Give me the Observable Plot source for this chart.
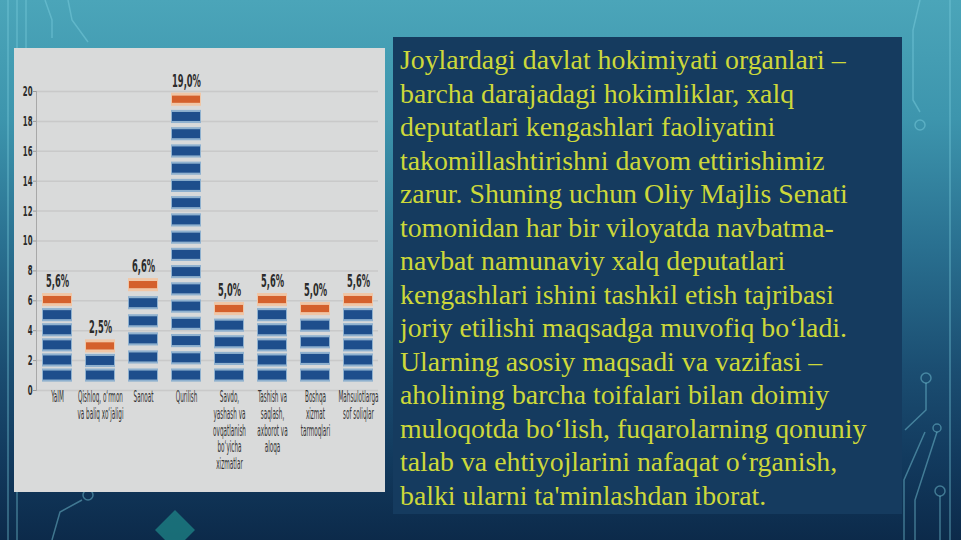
<!DOCTYPE html>
<html>
<head>
<meta charset="utf-8">
<script src="https://cdn.jsdelivr.net/npm/d3@7"></script>
<script src="https://cdn.jsdelivr.net/npm/@observablehq/plot@0.6"></script>
<style>
  html, body { margin: 0; padding: 0; }
  body { width: 961px; height: 540px; overflow: hidden; }
  #slide {
    position: relative; width: 961px; height: 540px; overflow: hidden;
    background: linear-gradient(to bottom, #4ba5b9 0%, #3d95ad 22%, #2a7191 45%, #1b4e72 68%, #123a5e 85%, #0c2a4a 100%);
  }
  #deco { position: absolute; left: 0; top: 0; }
  #panel {
    position: absolute; left: 14px; top: 48px; width: 371px; height: 444px;
    background: #d9dada;
  }
  #textbox {
    position: absolute; left: 393px; top: 37px; width: 509px; height: 477px;
    background: #153b5f; box-sizing: border-box; padding: 6px 0 0 7px;
    font-family: "Liberation Serif", "DejaVu Serif", serif; font-size: 27.8px;
    color: #cdd83a;
  }
  #textbox div { height: 33.5px; line-height: 33.5px; white-space: nowrap; }
  #panel svg text { font-family: "Liberation Sans Narrow", "DejaVu Sans Condensed", sans-serif; }
</style>
</head>
<body>
<div id="slide">
  <svg id="deco" width="961" height="540">
    <g fill="none" stroke="#7fd0e0" stroke-opacity="0.45" stroke-width="1.5">
      <path d="M8 0 V540"/>
      <path d="M17 0 V540"/>
      <path d="M26 0 V48"/>
      <path d="M45 0 L52 20 L52 38"/>
      <path d="M52 540 L60 512 L82 500"/>
      <circle cx="88" cy="495" r="5"/>
      <path d="M88 42 L72 20 L68 0"/>
      <path d="M920 0 L913 30 L913 100 L920 112"/>
      <circle cx="920" cy="125" r="5"/>
      <path d="M904 540 V480 L925 432"/>
      <circle cx="926" cy="378" r="5"/>
      <path d="M926 383 V410 L905 430"/>
      <circle cx="937" cy="428" r="4"/>
      <path d="M937 432 L915 500 V540"/>
      <circle cx="940" cy="491" r="5"/>
      <path d="M940 496 V540"/>
      <path d="M950 0 V540"/>
    </g>
    <path d="M175 510 L195 530 L175 550 L155 530 Z" fill="#1f8a8a" fill-opacity="0.7"/>
  </svg>
  <div id="panel"></div>
  <div id="textbox"></div>
</div>
<script>
// ---- chart data ----
const categories = [
  "YaIM",
  "Qishloq, o‘rmon\nva baliq xo‘jaligi",
  "Sanoat",
  "Qurilish",
  "Savdo,\nyashash va\novqatlanish\nbo‘yicha\nxizmatlar",
  "Tashish va\nsaqlash,\naxborot va\naloqa",
  "Boshqa\nxizmat\ntarmoqlari",
  "Mahsulotlarga\nsof soliqlar"
];
const growth = [5.6, 2.5, 6.6, 19.0, 5.0, 5.6, 5.0, 5.6];
const valueLabels = ["5,6%", "2,5%", "6,6%", "19,0%", "5,0%", "5,6%", "5,0%", "5,6%"];
const stripeCounts = [5, 2, 5, 16, 4, 5, 4, 5];
const yTicks = [0, 2, 4, 6, 8, 10, 12, 14, 16, 18, 20];

// ---- slide text ----
const textLines = [
  "Joylardagi davlat hokimiyati organlari –",
  "barcha darajadagi hokimliklar, xalq",
  "deputatlari kengashlari faoliyatini",
  "takomillashtirishni davom ettirishimiz",
  "zarur. Shuning uchun Oliy Majlis Senati",
  "tomonidan har bir viloyatda navbatma-",
  "navbat namunaviy xalq deputatlari",
  "kengashlari ishini tashkil etish tajribasi",
  "joriy etilishi maqsadga muvofiq bo‘ladi.",
  "Ularning asosiy maqsadi va vazifasi –",
  "aholining barcha toifalari bilan doimiy",
  "muloqotda bo‘lish, fuqarolarning qonuniy",
  "talab va ehtiyojlarini nafaqat o‘rganish,",
  "balki ularni ta'minlashdan iborat."
];

// Table built from the arrays: top (orange) stripe sits a little above the value,
// blue stripes fill the column below it.
const bars = categories.map((c, i) => ({cat: c, value: growth[i], label: valueLabels[i], top: growth[i] + 0.45, n: stripeCounts[i]}));
const stripes = [];
for (const b of bars) {
  const step = (b.top - 1) / b.n;
  for (let k = 0; k < b.n; k++) stripes.push({cat: b.cat, c: 1 + k * step});
}

const half = 0.3, halo = 0.44;
const chart = Plot.plot({
  width: 371,
  height: 444,
  marginTop: 43,
  marginBottom: 102,
  marginLeft: 22,
  marginRight: 7,
  style: {background: "transparent", color: "#333"},
  x: {domain: categories, paddingInner: 0.35, paddingOuter: 0.13, axis: null},
  y: {domain: [0, 20], axis: null},
  marks: [
    Plot.gridY(yTicks, {stroke: "#c2c2c2", strokeOpacity: 0.7, strokeWidth: 1.5}),
    Plot.frame({anchor: "left", stroke: "#a8a8a8"}),
    Plot.axisY(yTicks, {tickSize: 3, tickPadding: 1, fontSize: 14, fontWeight: "bold", fill: "#2a2a2a", stroke: "#999", tickFormat: d => String(d), label: null}),
    // blue stripes (light halo + dark core)
    Plot.barY(stripes, {x: "cat", y1: d => d.c - halo, y2: d => d.c + halo, fill: "#8fb1cf", insetLeft: -1, insetRight: -1}),
    Plot.barY(stripes, {x: "cat", y1: d => d.c - half, y2: d => d.c + half, fill: "#1e4e8c"}),
    // orange top stripe
    Plot.barY(bars, {x: "cat", y1: d => d.top - halo, y2: d => d.top + halo, fill: "#f0c6a6", insetLeft: -1, insetRight: -1}),
    Plot.barY(bars, {x: "cat", y1: d => d.top - 0.24, y2: d => d.top + 0.24, fill: "#d4602c"}),
    // value labels
    Plot.text(bars, {x: "cat", y: "top", text: "label", dy: -19, fontSize: 18.5, fontWeight: "bold", fill: "#2b2b2b"}),
    // category labels
    Plot.axisX({tickSize: 0, tickPadding: 0, fontSize: 15, lineHeight: 1.11, fill: "#333", label: null})
  ]
});
document.getElementById("panel").appendChild(chart);

// condense the chart lettering as in the original figure (append a horizontal squeeze to each text's own transform)
function squeeze(sel, sx) {
  d3.select(chart).selectAll(sel).each(function () {
    const t = this.getAttribute("transform") || "";
    this.setAttribute("transform", (t + ` scale(${sx},1)`).trim());
  });
}
squeeze('g[aria-label="text"] text', 0.5);
squeeze('g[aria-label="y-axis tick label"] text', 0.55);
squeeze('g[aria-label="x-axis tick label"] text', 0.42);

const tb = document.getElementById("textbox");
for (const line of textLines) {
  const div = document.createElement("div");
  div.textContent = line;
  tb.appendChild(div);
}
</script>
</body>
</html>
